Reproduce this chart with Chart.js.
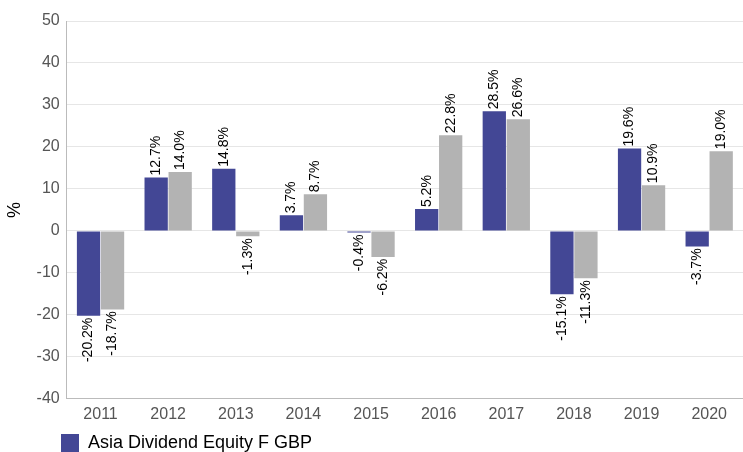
<!DOCTYPE html>
<html>
<head>
<meta charset="utf-8">
<script src="https://cdn.jsdelivr.net/npm/chart.js@4"></script>
<style>
  html, body { margin: 0; padding: 0; background: #fff; overflow: hidden; }
  #wrap { width: 743px; height: 462px; }
</style>
</head>
<body>
<div id="wrap"><canvas id="chart"></canvas></div>
<script>
const years = ['2011', '2012', '2013', '2014', '2015', '2016', '2017', '2018', '2019', '2020'];
const fundReturns = [-20.2, 12.7, 14.8, 3.7, -0.4, 5.2, 28.5, -15.1, 19.6, -3.7];
const sectorReturns = [-18.7, 14.0, -1.3, 8.7, -6.2, 22.8, 26.6, -11.3, 10.9, 19.0];
const fundName = 'Asia Dividend Equity F GBP';
const sectorName = 'Sector Average';

const FONT = '"Liberation Sans", Arial, sans-serif';

// value labels, rotated, sitting at the end of each bar
const barLabels = {
  id: 'barLabels',
  afterDatasetsDraw(chart) {
    const ctx = chart.ctx;
    ctx.save();
    ctx.font = '14px ' + FONT;
    ctx.fillStyle = '#000';
    ctx.textBaseline = 'middle';
    chart.data.datasets.forEach((ds, i) => {
      chart.getDatasetMeta(i).data.forEach((bar, j) => {
        const v = ds.data[j];
        ctx.save();
        ctx.translate(bar.x, v >= 0 ? bar.y - 2 : bar.y + 2);
        ctx.rotate(-Math.PI / 2);
        ctx.textAlign = v >= 0 ? 'left' : 'right';
        ctx.fillText(v.toFixed(1) + '%', 0, 0);
        ctx.restore();
      });
    });
    ctx.restore();
  }
};

// push the legend in so it lines up under the axis
const legendShift = {
  id: 'legendShift',
  afterLayout(chart) {
    chart.legend.left += 57;
    chart.legend.right += 57;
  }
};

new Chart(document.getElementById('chart'), {
  type: 'bar',
  data: {
    labels: years,
    datasets: [{
      label: fundName,
      data: fundReturns,
      backgroundColor: '#434795',
      categoryPercentage: 0.71,
      barPercentage: 0.97
    }, {
      label: sectorName,
      data: sectorReturns,
      backgroundColor: '#b3b3b3',
      categoryPercentage: 0.71,
      barPercentage: 0.97
    }]
  },
  options: {
    responsive: true,
    maintainAspectRatio: false,
    animation: false,
    layout: { padding: { top: 21, right: 0, left: 0, bottom: 0 } },
    plugins: {
      legend: {
        position: 'bottom',
        align: 'start',
        labels: {
          filter: item => item.datasetIndex === 0,
          color: '#000',
          boxWidth: 18,
          boxHeight: 18,
          padding: 4,
          font: { size: 18, family: FONT }
        }
      },
      tooltip: { enabled: false }
    },
    scales: {
      x: {
        grid: { display: false, drawTicks: false },
        border: { color: '#bbb' },
        ticks: { color: '#555', font: { size: 16, family: FONT }, padding: 6 }
      },
      y: {
        min: -40,
        max: 50,
        ticks: { stepSize: 10, color: '#555', padding: 7, font: { size: 16, family: FONT } },
        grid: { color: '#e6e6e6', drawTicks: false },
        border: { color: '#bbb' },
        title: { display: true, text: '%', color: '#000', padding: 4, font: { size: 18, family: FONT } }
      }
    }
  },
  plugins: [barLabels, legendShift]
});
</script>
</body>
</html>
